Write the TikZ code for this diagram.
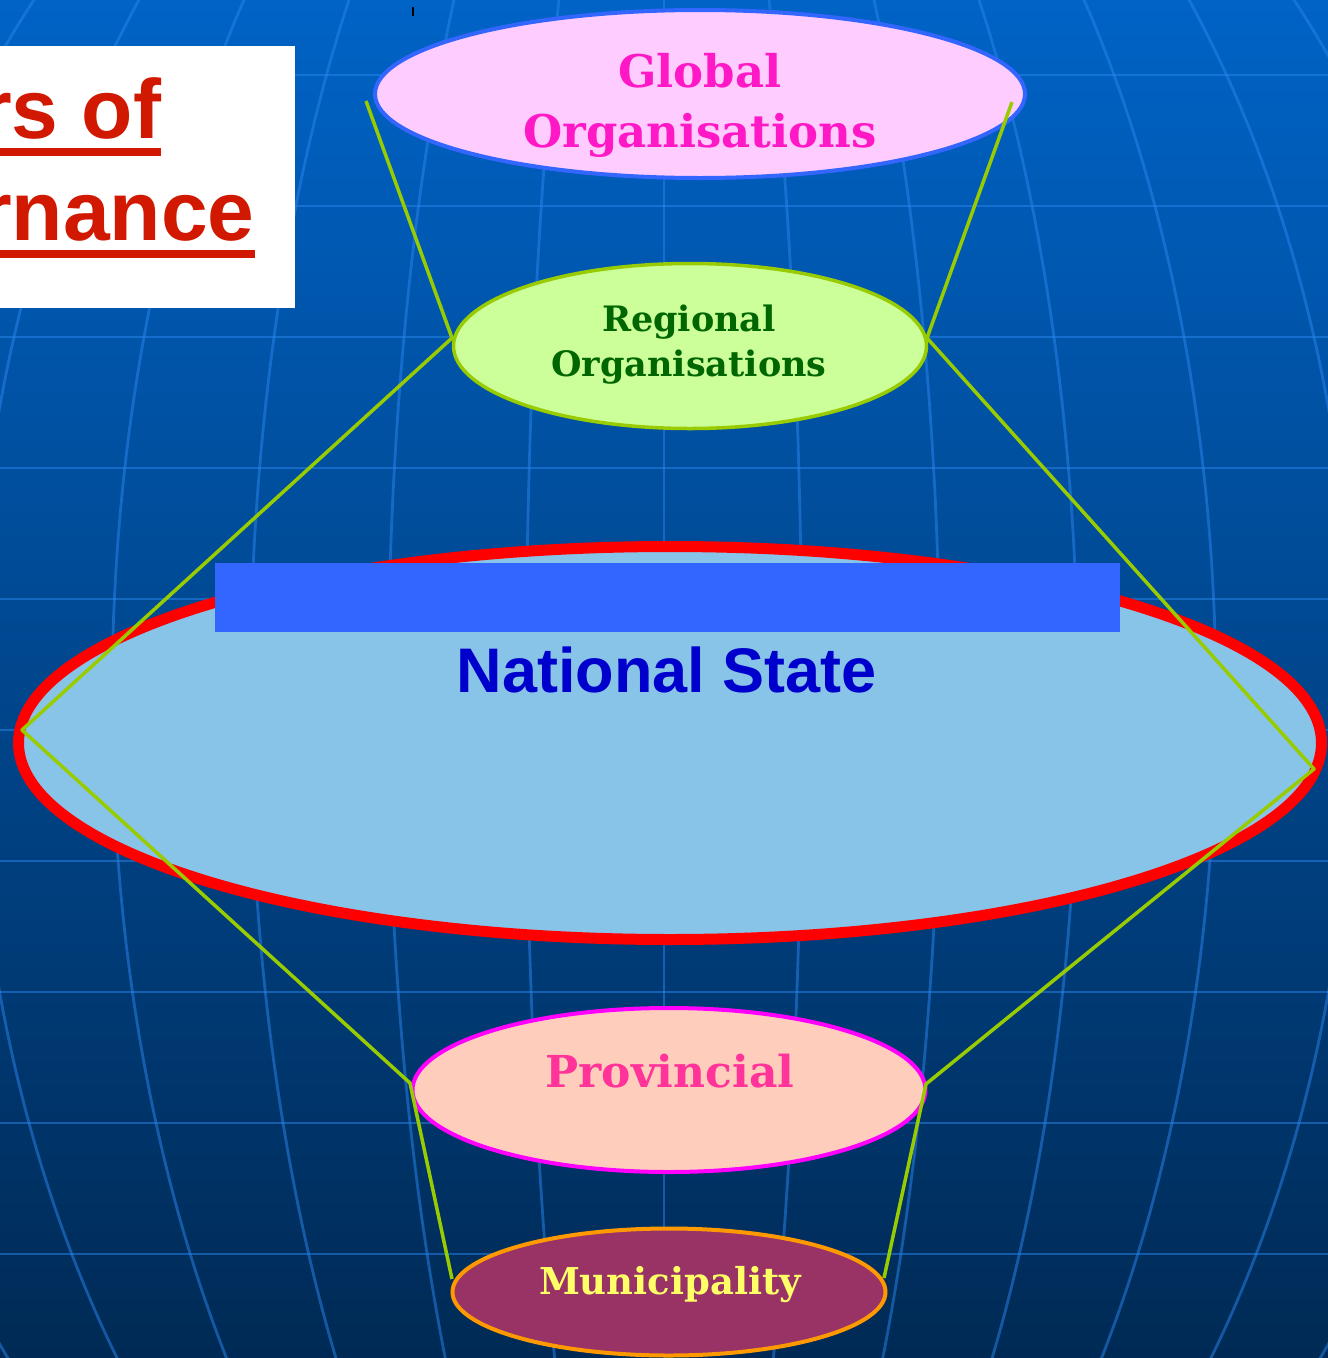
\documentclass[tikz,border=0pt]{standalone}
\usepackage{fontspec}
\setmainfont{DejaVu Serif}
\setsansfont{Liberation Sans}
\usetikzlibrary{shapes.geometric}

\definecolor{skytop}{HTML}{0063C6}
\definecolor{skybottom}{HTML}{002A55}
\definecolor{gridblue}{HTML}{2A86EE}
\definecolor{linkgreen}{HTML}{99CC00}
\definecolor{titlered}{HTML}{D11800}
\definecolor{barblue}{HTML}{3366FF}
\definecolor{globalfill}{HTML}{FFCCFF}
\definecolor{globaltext}{HTML}{FF19C6}
\definecolor{regionfill}{HTML}{CCFF99}
\definecolor{regiontext}{HTML}{006600}
\definecolor{statefill}{HTML}{88C4E8}
\definecolor{statetext}{HTML}{0000CC}
\definecolor{provfill}{HTML}{FFCDBB}
\definecolor{provtext}{HTML}{FF3399}
\definecolor{provline}{HTML}{FF00FF}
\definecolor{munifill}{HTML}{993366}
\definecolor{munitext}{HTML}{FFFF66}
\definecolor{muniline}{HTML}{FF9900}

\begin{document}
\begin{tikzpicture}[x=1pt,y=-1pt]

    \tikzset{
      level/.style={
        ellipse,
        draw,
        inner sep=0pt,
        line width=4pt,
      },
      leveltext/.style={
        anchor=base,
        inner sep=0pt,
        font=\bfseries\fontsize{#1}{#1}\selectfont,
      },
      titletext/.style={
        anchor=base west,
        inner sep=0pt,
        text=titlered,
        font=\sffamily\bfseries\fontsize{84}{84}\selectfont,
      },
      gridline/.style={
        draw=gridblue,
        line width=2.8pt,
        opacity=0.5,
      },
      link/.style={
        draw=linkgreen,
        line width=3.5pt,
        line join=round,
      },
    }
    \useasboundingbox (0,0) rectangle (1328,1358);
    \clip (0,0) rectangle (1328,1358);
    \shade[top color=skytop, bottom color=skybottom] (0,0) rectangle (1328,1358);
    % globe grid
    \foreach \y in {75,206,...,1254}
	\draw[gridline] (0,\y) -- (1328,\y);
    \draw[gridline] (664,0) -- (664,1358);
    \foreach \k in {1,...,6}
	\draw[gridline] (664,700) ellipse ({138*\k} and 1079);

    \draw[line width=1.5pt] (413,7) -- (413,16);

    % title box
    \fill[white] (0,46) rectangle (295,308);
	\node[titletext] (tone) at (-21,138) {rs of};
	\node[titletext] (ttwo) at (-21,240) {rnance};
	\fill[titlered] ([yshift=-10pt]tone.base west) rectangle ([yshift=-18pt]tone.base east);
	\fill[titlered] ([yshift=-10pt]ttwo.base west) rectangle ([yshift=-18pt]ttwo.base east);

    % levels
	\node[level, fill=globalfill, draw=barblue, minimum width=650pt, minimum height=168pt] (glob) at (700,94) {};
	\node[level, fill=regionfill, draw=linkgreen, line width=3.5pt, minimum width=473pt, minimum height=165pt] (reg) at (690,346) {};
	\node[level, fill=statefill, draw=red, line width=11pt, minimum width=1303pt, minimum height=393pt] (nat) at (670,743) {};
	\node[level, fill=provfill, draw=provline, minimum width=513pt, minimum height=164pt] (prov) at (669,1090) {};
	\node[level, fill=munifill, draw=muniline, minimum width=433pt, minimum height=127pt] (muni) at (669,1292) {};
	\fill[barblue] (215,563) rectangle (1120,632);

	\node[leveltext=45, text=globaltext] (globA) at (700,87) {Global};
	\node[leveltext=45, text=globaltext] (globB) at (700,147) {Organisations};
	\node[leveltext=35, text=regiontext] (regA) at (689,331) {Regional};
	\node[leveltext=35, text=regiontext] (regB) at (689,376) {Organisations};
	\node[anchor=base, inner sep=0pt, text=statetext, font=\sffamily\bfseries\fontsize{63}{63}\selectfont] (natA) at (667,692) {National State};
	\node[leveltext=44, text=provtext] (provA) at (670,1087) {Provincial};
	\node[leveltext=37, text=munitext] (muniA) at (670,1294) {Municipality};

    % funnel lines
	\coordinate (gl) at (366,101);
	\coordinate (gr) at (1012,102);
	\coordinate (rl) at (452,338);
	\coordinate (rr) at (927,338);
	\coordinate (nl) at (22,730);
	\coordinate (nr) at (1314,769);
	\coordinate (pl) at (410,1083);
	\coordinate (pr) at (926,1084);
	\coordinate (ml) at (452,1279);
	\coordinate (mr) at (884,1278);
	\draw[link] (gl) -- (rl) -- (nl) -- (pl) -- (ml);
	\draw[link] (gr) -- (rr) -- (nr) -- (pr) -- (mr);

\end{tikzpicture}
\end{document}
